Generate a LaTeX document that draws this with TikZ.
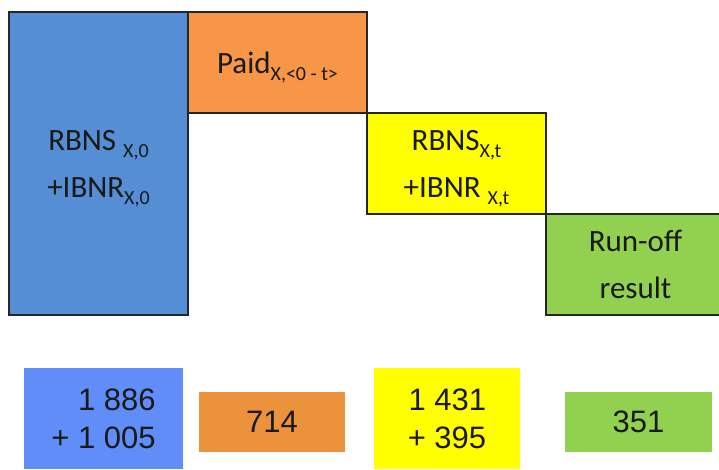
\documentclass[tikz,border=0pt]{standalone}
\usepackage{fontspec}
\setmainfont{Carlito}
\newfontfamily\numfont{Liberation Sans}
\usetikzlibrary{positioning}
\definecolor{Res_Blue}{HTML}{558ED5}
\definecolor{Res_Orange}{HTML}{F79646}
\definecolor{Res_Yellow}{HTML}{FFFF00}
\definecolor{Res_Green}{HTML}{92D050}
\definecolor{Num_Blue}{HTML}{608DF8}
\definecolor{Num_Orange}{HTML}{EC923C}
\newcommand{\lowidx}[1]{\raisebox{-0.25em}[0pt][0pt]{\fontsize{20}{20}\selectfont #1}}

\begin{document}
\begin{tikzpicture}[
    x=1pt, y=-1pt,
    stage/.style={
        draw=black!85,
        line width=1.2pt,
        minimum width=179pt,
        minimum height=101pt,
        anchor=north west,
        inner sep=0pt,
        outer sep=0pt,
        align=center,
        text=black!90,
        font=\fontsize{31}{47}\selectfont
    },
    amount/.style={
        minimum height=60pt,
        inner sep=0pt,
        outer sep=0pt,
        text=black!90,
        font=\numfont\fontsize{31}{38}\selectfont
    }
]
\useasboundingbox (0,0) rectangle (719,469);

% staircase of reserves
\node[stage, fill=Res_Blue, minimum height=303pt] (rbns0) at (9,12) {RBNS \lowidx{X,0}\\+IBNR\lowidx{X,0}};
\node[stage, fill=Res_Orange] (paid) at (rbns0.north east) {Paid\lowidx{X,<0 - t>}};
\node[stage, fill=Res_Yellow] (rbnst) at (paid.south east) {RBNS\lowidx{X,t}\\+IBNR \lowidx{X,t}};
\node[stage, fill=Res_Green] (runoff) at (rbnst.south east) {Run-off\\result};

% amounts
\node[amount, fill=Num_Blue, minimum width=159pt, minimum height=101pt, align=right] (sum0) at (103.5,418.5) {1 886\\+ 1 005};
\node[amount, fill=Num_Orange, minimum width=146pt] (paidsum) at (272,422) {714};
\node[amount, fill=Res_Yellow, minimum width=146pt, minimum height=101pt, align=right] (sumt) at (447,418.5) {1 431\\+ 395};
\node[amount, fill=Res_Green, minimum width=147pt] (result) at (638.5,422) {351};

\end{tikzpicture}
\end{document}
